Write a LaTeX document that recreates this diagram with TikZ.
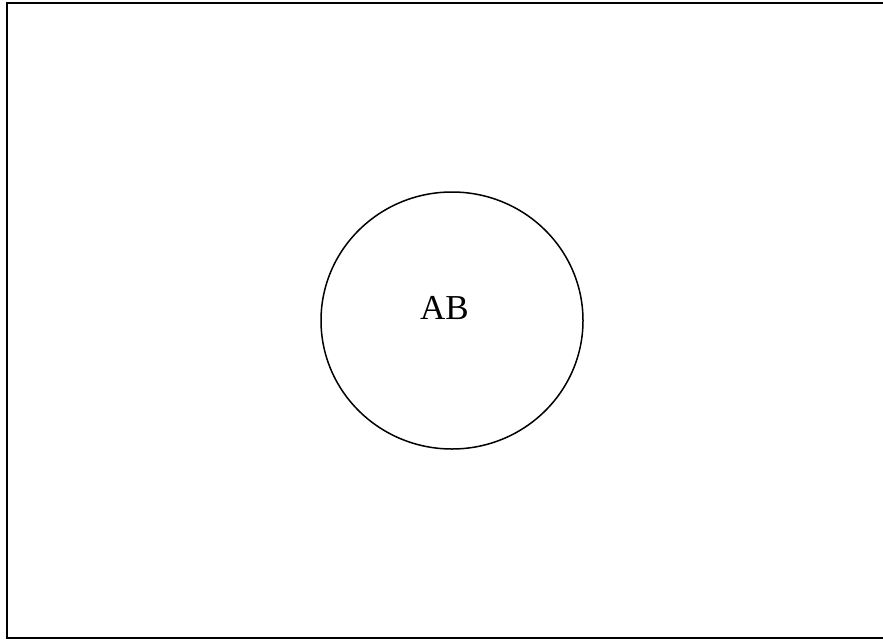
\documentclass[tikz,border=0pt]{standalone}
\usepackage{fontspec}
\setmainfont{Liberation Serif}
\begin{document}
\begin{tikzpicture}[x=1pt,y=-1pt,
  frame/.style={draw=black,line width=2pt},
  circ/.style={draw=black,line width=1.5pt}]
\useasboundingbox (0,0) rectangle (883,640);
\begin{scope}
\clip (0,0) rectangle (883,640);
\draw[frame] (7,3) rectangle (886,638);
\end{scope}
\draw[circ] (452,320.5) ellipse [x radius=131, y radius=128.5];
\node (ab) at (444.5,308) {\fontsize{35}{40}\selectfont AB};
\end{tikzpicture}
\end{document}
